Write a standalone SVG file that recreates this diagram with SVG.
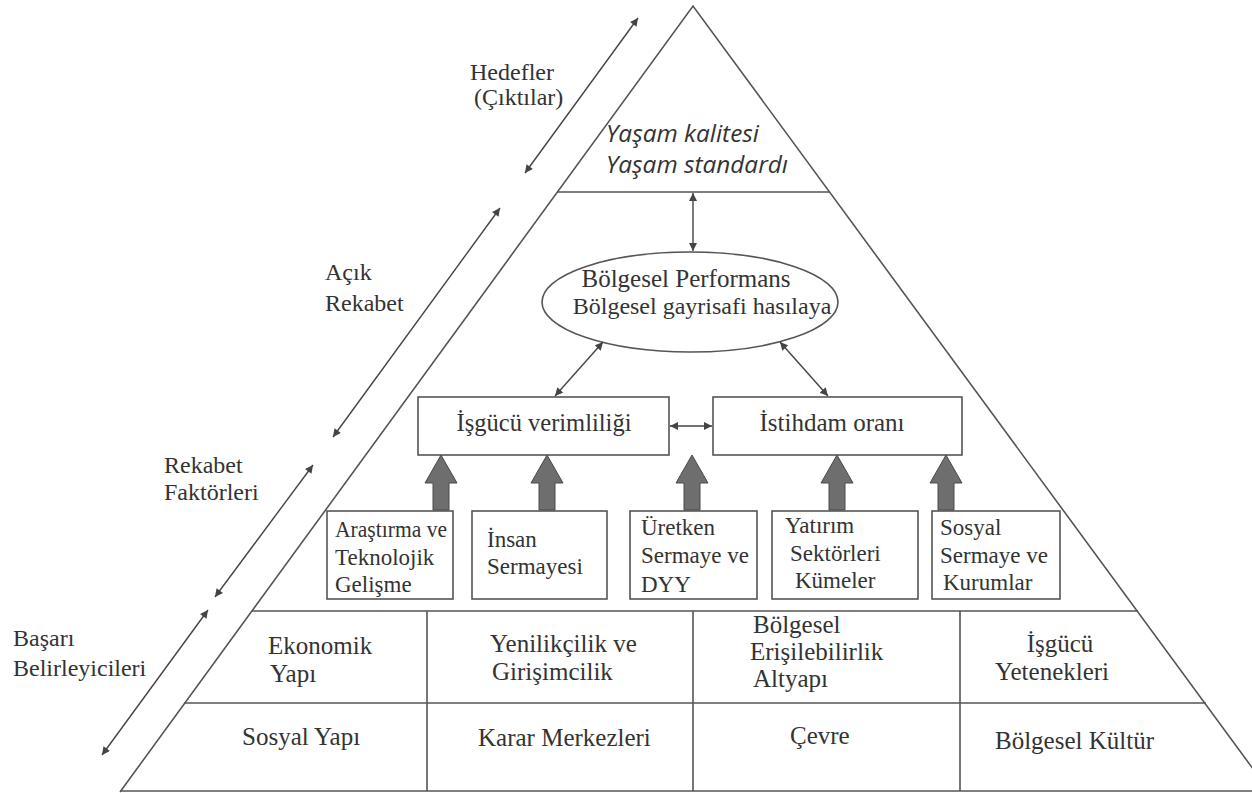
<svg xmlns="http://www.w3.org/2000/svg" width="1252" height="793" viewBox="0 0 1252 793">
<defs>
<marker id="ah" viewBox="0 0 10 10" refX="10" refY="5" markerWidth="10" markerHeight="8" markerUnits="userSpaceOnUse" orient="auto-start-reverse">
<path d="M0,0 L10,5 L0,10 z" fill="#444"/>
</marker>
<style>
.ln{stroke:#555;stroke-width:1.6;fill:none}
.bx{stroke:#555;stroke-width:1.6;fill:#fff}
.ar{stroke:#444;stroke-width:1.4;fill:none;marker-start:url(#ah);marker-end:url(#ah)}
.blk{fill:#6e6e6e;stroke:#4a4a4a;stroke-width:1}
text{font-family:'Liberation Serif','DejaVu Serif','Times New Roman',serif;fill:#333}
text.it{font-family:'Open Sans','Noto Sans',sans-serif;font-style:italic}
</style>
</defs>
<rect width="1252" height="793" fill="#fff"/>

<g id="pyramid">
<polyline class="ln" points="120,792 693,6 1270,792"/>
<line class="ln" x1="120" y1="791" x2="1252" y2="791"/>
<line class="ln" x1="557" y1="192" x2="830" y2="192"/>
<line class="ln" x1="252" y1="611" x2="1138" y2="611"/>
<line class="ln" x1="184" y1="703" x2="1206" y2="703"/>
<line class="ln" x1="427" y1="611" x2="427" y2="791"/>
<line class="ln" x1="693" y1="611" x2="693" y2="791"/>
<line class="ln" x1="960" y1="611" x2="960" y2="791"/>
</g>

<g id="side-labels" font-size="24">
<text x="470" y="80">Hedefler</text>
<text x="474" y="105">(Çıktılar)</text>
<text x="325" y="280">Açık</text>
<text x="325" y="311">Rekabet</text>
<text x="164" y="473">Rekabet</text>
<text x="164" y="500">Faktörleri</text>
<text x="13" y="646">Başarı</text>
<text x="13" y="676">Belirleyicileri</text>
</g>

<g id="top" font-size="23">
<text class="it" x="606" y="142" textLength="153" lengthAdjust="spacingAndGlyphs">Yaşam kalitesi</text>
<text class="it" x="606" y="173" textLength="182" lengthAdjust="spacingAndGlyphs">Yaşam standardı</text>
</g>

<g id="performans">
<ellipse class="bx" cx="690" cy="302" rx="148" ry="50"/>
<text x="686" y="287" font-size="25" text-anchor="middle">Bölgesel Performans</text>
<text x="702" y="314" font-size="24" text-anchor="middle">Bölgesel gayrisafi hasılaya</text>
</g>

<g id="isgucu-verimliligi" font-size="24.5">
<rect class="bx" x="418" y="397" width="251" height="58"/>
<text x="544" y="431" text-anchor="middle">İşgücü verimliliği</text>
</g>

<g id="istihdam" font-size="25">
<rect class="bx" x="713" y="397" width="249" height="58"/>
<text x="832" y="431" text-anchor="middle">İstihdam oranı</text>
</g>

<g id="box-arastirma" font-size="23">
<rect class="bx" x="327" y="511" width="126" height="88"/>
<text x="335" y="537" textLength="112" lengthAdjust="spacingAndGlyphs">Araştırma ve</text>
<text x="335" y="565">Teknolojik</text>
<text x="335" y="592">Gelişme</text>
</g>
<g id="box-insan" font-size="23">
<rect class="bx" x="472" y="511" width="135" height="88"/>
<text x="487" y="547">İnsan</text>
<text x="487" y="574">Sermayesi</text>
</g>
<g id="box-uretken" font-size="23">
<rect class="bx" x="630" y="511" width="127" height="88"/>
<text x="641" y="535">Üretken</text>
<text x="641" y="563">Sermaye ve</text>
<text x="641" y="592">DYY</text>
</g>
<g id="box-yatirim" font-size="23">
<rect class="bx" x="772" y="511" width="146" height="88"/>
<text x="785" y="533">Yatırım</text>
<text x="790" y="561">Sektörleri</text>
<text x="795" y="588">Kümeler</text>
</g>
<g id="box-sosyal" font-size="23">
<rect class="bx" x="932" y="511" width="128" height="88"/>
<text x="940" y="535">Sosyal</text>
<text x="940" y="563">Sermaye ve</text>
<text x="943" y="590">Kurumlar</text>
</g>

<g id="table-cells" font-size="25">
<text x="268" y="654">Ekonomik</text>
<text x="270" y="682">Yapı</text>
<text x="490" y="652">Yenilikçilik ve</text>
<text x="492" y="680">Girişimcilik</text>
<text x="753" y="633">Bölgesel</text>
<text x="750" y="660">Erişilebilirlik</text>
<text x="753" y="687">Altyapı</text>
<text x="1060" y="652" text-anchor="middle">İşgücü</text>
<text x="1052" y="680" text-anchor="middle">Yetenekleri</text>
<text x="242" y="745">Sosyal Yapı</text>
<text x="478" y="746">Karar Merkezleri</text>
<text x="790" y="744">Çevre</text>
<text x="995" y="749">Bölgesel Kültür</text>
</g>

<g id="connectors">
<line class="ar" x1="638" y1="18" x2="525" y2="173"/>
<line class="ar" x1="500" y1="208" x2="333" y2="437"/>
<line class="ar" x1="313" y1="465" x2="215" y2="597"/>
<line class="ar" x1="208" y1="610" x2="102" y2="755"/>
<line class="ar" x1="693" y1="193" x2="693" y2="251"/>
<line class="ar" x1="555" y1="396" x2="603" y2="342"/>
<line class="ar" x1="780" y1="342" x2="828" y2="396"/>
<line class="ar" x1="670" y1="426" x2="712" y2="426"/>
<polygon class="blk" points="441,455 457,483 449,483 449,510 433,510 433,483 425,483"/>
<polygon class="blk" points="547,455 563,483 555,483 555,510 539,510 539,483 531,483"/>
<polygon class="blk" points="692,455 708,483 700,483 700,510 684,510 684,483 676,483"/>
<polygon class="blk" points="837,455 853,483 845,483 845,510 829,510 829,483 821,483"/>
<polygon class="blk" points="946,455 962,483 954,483 954,510 938,510 938,483 930,483"/>
</g>
</svg>
